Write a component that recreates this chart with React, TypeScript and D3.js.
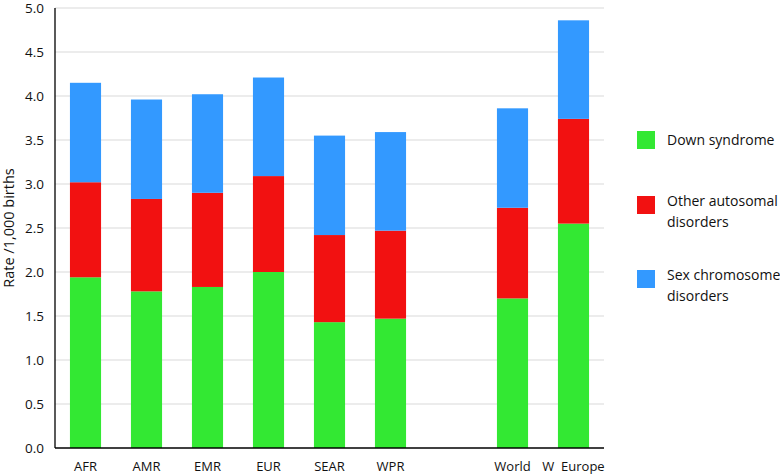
import React from "react";
import * as d3 from "d3";

const categories = ["AFR", "AMR", "EMR", "EUR", "SEAR", "WPR", "", "World", "W  Europe"];
const downSyndrome = [1.94, 1.78, 1.83, 2.0, 1.43, 1.47, null, 1.7, 2.55];
const otherAutosomal = [1.08, 1.05, 1.07, 1.09, 0.99, 1.0, null, 1.03, 1.19];
const sexChromosome = [1.13, 1.13, 1.12, 1.12, 1.13, 1.12, null, 1.13, 1.12];
const yTicks = [0, 0.5, 1, 1.5, 2, 2.5, 3, 3.5, 4, 4.5, 5];
const seriesNames = ["Down syndrome", "Other autosomal|disorders", "Sex chromosome|disorders"];
const colors = ["#33e833", "#f21111", "#3399ff"];

export default function App() {
  const W = 780, H = 475;
  const left = 55, right = 604, top = 8, bottom = 448;
  const x = d3.scaleBand().domain(categories.map((c, i) => String(i))).range([left, right]).paddingInner(0.49).paddingOuter(0.245);
  const y = d3.scaleLinear().domain([0, 5]).range([bottom, top]);
  const series = [downSyndrome, otherAutosomal, sexChromosome];
  const font = "Open Sans, sans-serif";
  const bars: any[] = [];
  categories.forEach((c, i) => {
    if (downSyndrome[i] == null) return;
    let acc = 0;
    series.forEach((s, k) => {
      const v = s[i] as number;
      const y0 = y(acc), y1 = y(acc + v);
      bars.push(<rect key={`${i}-${k}`} x={x(String(i))} width={x.bandwidth()} y={y1} height={y0 - y1} fill={colors[k]} />);
      acc += v;
    });
  });
  const legendY = [140, 205, 279];
  return (
    <svg width={W} height={H} style={{ position: "absolute", left: 0, top: 0, background: "#fff" }} fontFamily={font}>
      {yTicks.map((t) => (
        <g key={t}>
          {t > 0 && <line x1={left} x2={right} y1={y(t)} y2={y(t)} stroke="#d9d9d9" strokeWidth={1.2} />}
          <text x={44} y={y(t)} dy="0.35em" textAnchor="end" fontSize={13.5} fill="#111">{t.toFixed(1)}</text>
        </g>
      ))}
      {bars}
      <line x1={left} x2={left} y1={top} y2={bottom} stroke="#000" strokeWidth={1.3} />
      <line x1={left} x2={right} y1={bottom} y2={bottom} stroke="#000" strokeWidth={1.3} />
      {categories.map((c, i) => (
        c ? <text key={i} x={(x(String(i)) as number) + x.bandwidth() / 2} y={466} dy="0.35em" textAnchor="middle" fontSize={13} fill="#111" style={{ whiteSpace: "pre" }}>{c}</text> : null
      ))}
      <text transform={`translate(9,${(top + bottom) / 2}) rotate(-90)`} textAnchor="middle" dy="0.35em" fontSize={14.5} fill="#111">Rate /1,000 births</text>
      {seriesNames.map((n, k) => {
        const lines = n.split("|");
        const cy = legendY[k];
        return (
          <g key={k}>
            <rect x={637} y={cy - 9} width={18} height={18} fill={colors[k]} />
            {lines.map((l, j) => (
              <text key={j} x={667} y={cy - (lines.length > 1 ? 4 : 0) + j * 21} dy="0.35em" fontSize={14} fill="#111">{l}</text>
            ))}
          </g>
        );
      })}
    </svg>
  );
}
